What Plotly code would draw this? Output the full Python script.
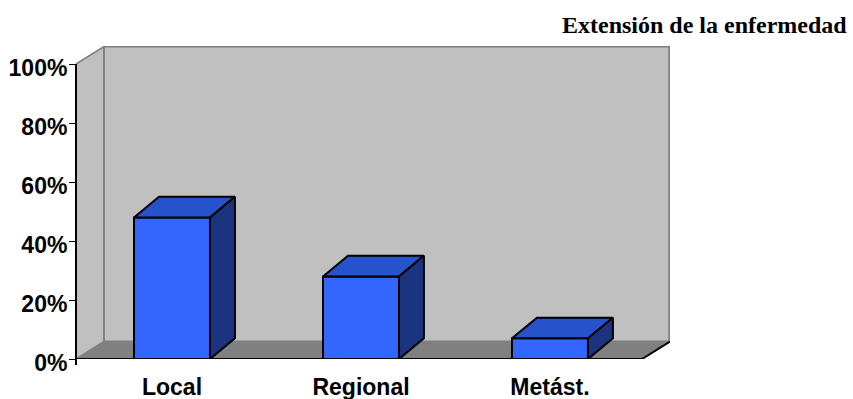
import plotly.graph_objects as go

# ---- data ----
categories = ["Local", "Regional", "Metást."]
values = [48, 28, 7]
y_tickvals = [0, 20, 40, 60, 80, 100]
y_ticktext = ["0%", "20%", "40%", "60%", "80%", "100%"]
title_text = "Extensión de la enfermedad"

# ---- style / geometry ----
W, H = 853, 399
X_MIN, X_MAX = -0.508, 2.635
Y_MAX = 106.1
WALL_DX, WALL_DY = 0.148, 5.93
BAR_W = 0.402
BAR_DX, BAR_DY = 0.132, 7.0
FRONT = "#3366FF"
TOP = "#2652CC"
SIDE = "#1A3480"
WALL = "#C0C0C0"
FLOOR = "#808080"
SANS = "Liberation Sans, Arial, sans-serif"
SERIF = "Liberation Serif, Times New Roman, serif"

xs = list(range(len(categories)))

fig = go.Figure()

# front faces
fig.add_trace(go.Bar(
    x=xs, y=values, width=BAR_W,
    marker=dict(color=FRONT, line=dict(color="black", width=2)),
    hoverinfo="skip", showlegend=False,
))

# top and side faces, built from the data values
top_x, top_y, side_x, side_y = [], [], [], []
for x, v in zip(xs, values):
    l, r = x - BAR_W / 2, x + BAR_W / 2
    top_x += [l, l + BAR_DX, r + BAR_DX, r, l, None]
    top_y += [v, v + BAR_DY, v + BAR_DY, v, v, None]
    side_x += [r, r + BAR_DX, r + BAR_DX, r, r, None]
    side_y += [0, BAR_DY, v + BAR_DY, v, 0, None]

fig.add_trace(go.Scatter(x=top_x, y=top_y, mode="lines", fill="toself",
                         fillcolor=TOP, line=dict(color="black", width=2),
                         hoverinfo="skip", showlegend=False))
fig.add_trace(go.Scatter(x=side_x, y=side_y, mode="lines", fill="toself",
                         fillcolor=SIDE, line=dict(color="black", width=2),
                         hoverinfo="skip", showlegend=False))

# walls & floor (chart frame)
shapes = []
bx0 = X_MIN + WALL_DX
shapes.append(dict(type="path", xref="x", yref="y", layer="below",
                   path=f"M {X_MIN},0 L {X_MIN},100 L {bx0},{100+WALL_DY} L {bx0},{WALL_DY} Z",
                   fillcolor=WALL, line=dict(color=FLOOR, width=1.5)))
shapes.append(dict(type="rect", xref="x", yref="y", layer="below",
                   x0=bx0, x1=X_MAX - 0.004, y0=WALL_DY, y1=100 + WALL_DY,
                   fillcolor=WALL, line=dict(color=FLOOR, width=2)))
shapes.append(dict(type="path", xref="x", yref="y", layer="below",
                   path=f"M {X_MIN},0 L {bx0},{WALL_DY} L {X_MAX},{WALL_DY} L {X_MAX-WALL_DX},0 Z",
                   fillcolor=FLOOR, line=dict(width=0)))
shapes.append(dict(type="path", xref="x", yref="y", layer="below",
                   path=f"M {X_MIN},0 L {X_MAX-WALL_DX},0 L {X_MAX},{WALL_DY}",
                   line=dict(color="black", width=2)))
# front vertical axis line (extends a few px below the floor edge)
shapes.append(dict(type="line", xref="paper", yref="paper", layer="above",
                   x0=0, x1=0, y0=-6 / 313, y1=100 / Y_MAX,
                   line=dict(color="black", width=2)))

fig.update_layout(
    width=W, height=H,
    margin=dict(l=76, r=183, t=46, b=40, autoexpand=False),
    paper_bgcolor="white", plot_bgcolor="rgba(0,0,0,0)",
    shapes=shapes,
    xaxis=dict(range=[X_MIN, X_MAX], tickvals=xs, ticktext=categories,
               showline=False, showgrid=False, zeroline=False, ticks="",
               tickfont=dict(family=SANS, size=23, color="black", weight="bold"),
               ticklabelstandoff=12, fixedrange=True, automargin=False),
    yaxis=dict(range=[0, Y_MAX], tickvals=y_tickvals, ticktext=y_ticktext,
               showline=False, showgrid=False, zeroline=False,
               ticks="outside", ticklen=6, tickwidth=1.3, tickcolor="black",
               tickfont=dict(family=SANS, size=23, color="black", weight="bold"),
               ticklabelstandoff=-3, ticklabelshift=4,
               fixedrange=True, automargin=False),
    annotations=[dict(text=title_text, xref="paper", yref="paper",
                      x=(849 - 76) / 594, y=(359 - 25) / 313,
                      xanchor="right", yanchor="middle", showarrow=False,
                      font=dict(family=SERIF, size=24, color="black", weight="bold"))],
)

fig.write_html("out.html")
